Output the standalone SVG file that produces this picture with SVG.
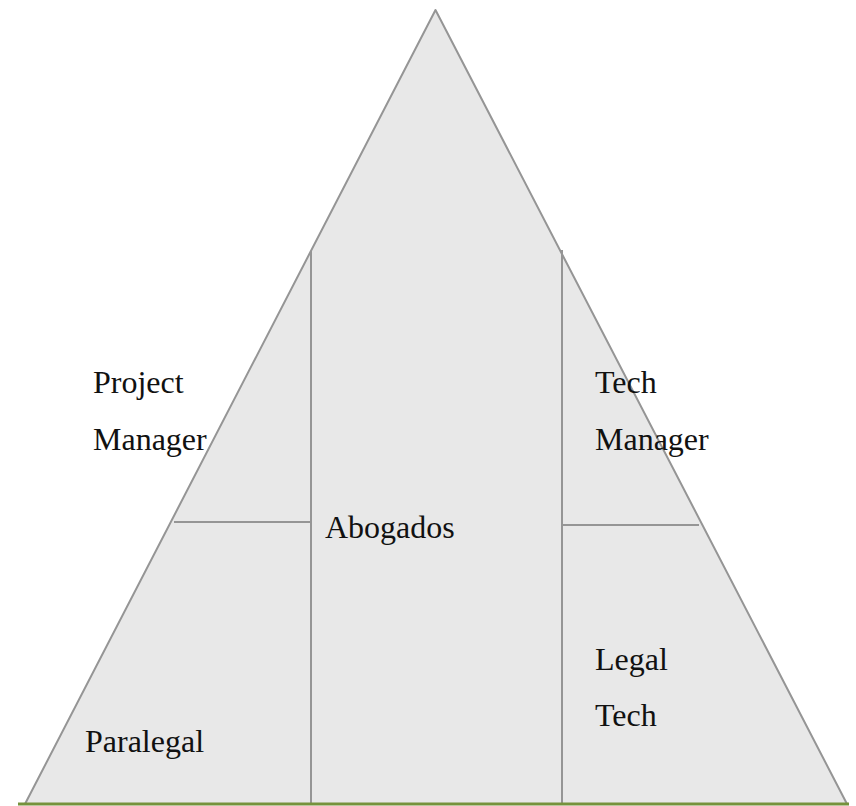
<svg xmlns="http://www.w3.org/2000/svg" width="856" height="806" viewBox="0 0 856 806">
<style>
.edge{stroke:#959595;stroke-width:2;fill:none}
.lbl{font-family:"Liberation Serif",serif;font-size:32px;fill:#111}
</style>
<rect width="856" height="806" fill="#fff"/>
<g id="pyramid">
<polygon points="435.5,10 25,804 847,804" fill="#e8e8e8" stroke="#959595" stroke-width="2" stroke-linejoin="round"/>
</g>
<g id="connectors">
<line class="edge" x1="311" y1="251" x2="311" y2="804"/>
<line class="edge" x1="562" y1="250" x2="562" y2="804"/>
<line class="edge" x1="174" y1="522" x2="311" y2="522"/>
<line class="edge" x1="562" y1="525" x2="699" y2="525"/>
<line x1="18" y1="804" x2="849" y2="804" stroke="#76923c" stroke-width="3"/>
</g>
<g id="project-manager"><text class="lbl" x="93" y="393">Project</text><text class="lbl" x="93" y="450">Manager</text></g>
<g id="tech-manager"><text class="lbl" x="595" y="393">Tech</text><text class="lbl" x="595" y="450">Manager</text></g>
<g id="abogados"><text class="lbl" x="325" y="538">Abogados</text></g>
<g id="paralegal"><text class="lbl" x="85" y="752">Paralegal</text></g>
<g id="legal-tech"><text class="lbl" x="595" y="670">Legal</text><text class="lbl" x="595" y="726">Tech</text></g>
</svg>
